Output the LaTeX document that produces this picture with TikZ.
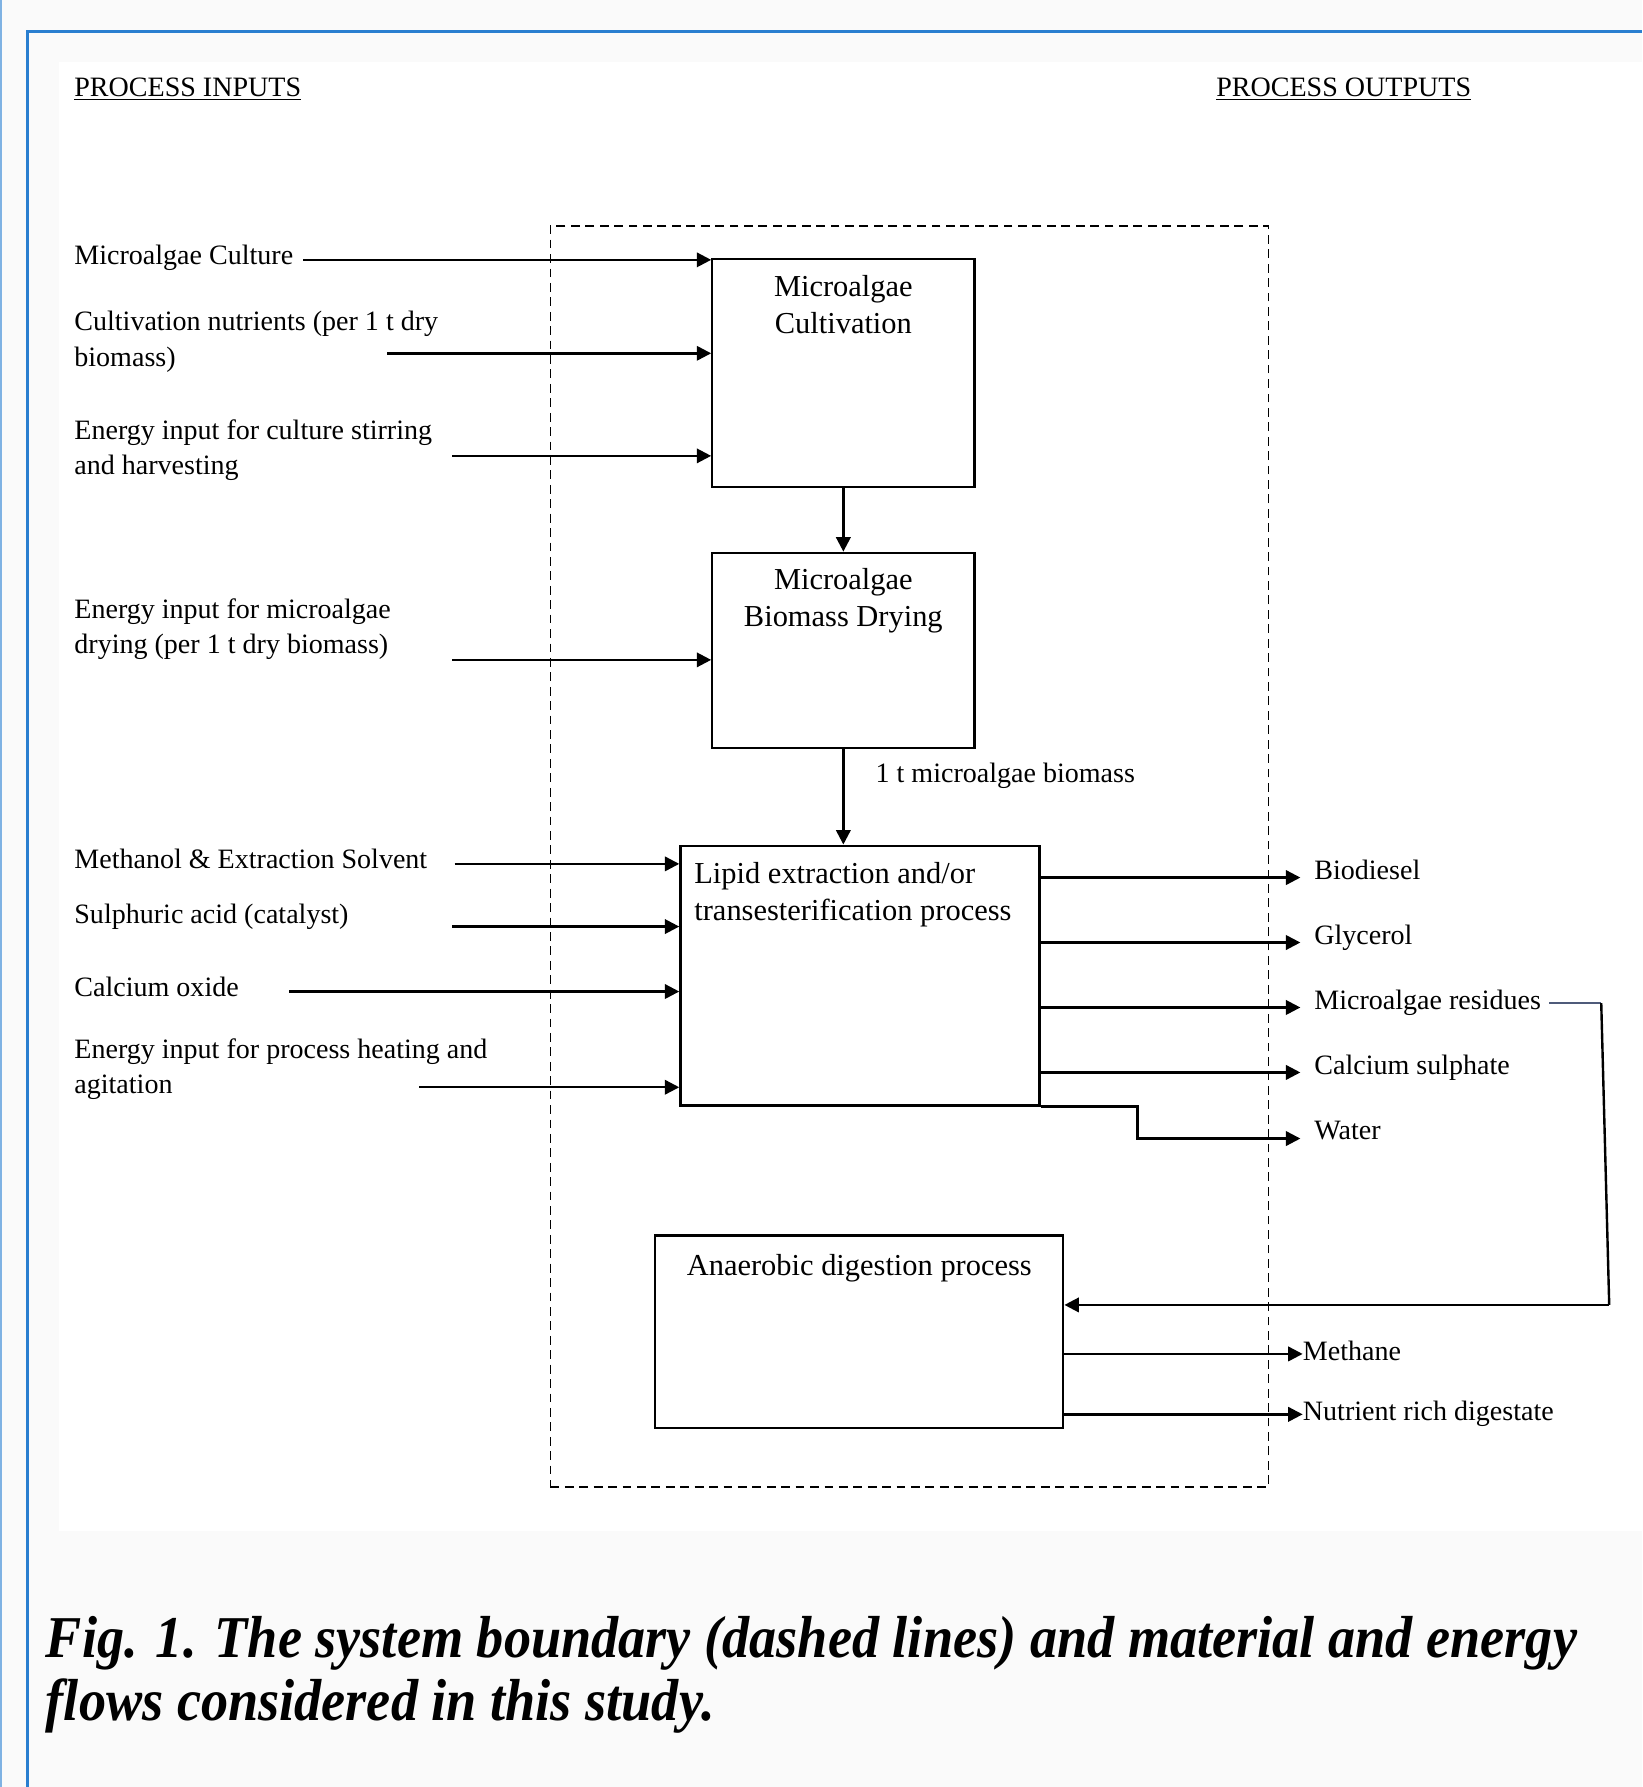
\documentclass[tikz,border=0pt]{standalone}
\usepackage{fontspec}
\setmainfont{Liberation Serif}
\usepackage{graphicx}
\usetikzlibrary{arrows.meta,fit}
\definecolor{frameblue}{HTML}{2A7FD0}
\definecolor{bggray}{HTML}{FAFAFA}
\definecolor{stubcol}{HTML}{4F5B7A}
\begin{document}
\begin{tikzpicture}[x=0.025cm,y=-0.025cm,
  lbl/.style={font=\fontsize{17.5}{22}\selectfont, inner sep=0, anchor=base west},
  mlbl/.style={font=\fontsize{17.5}{22}\selectfont, inner sep=0, anchor=north west, align=left},
  btxt/.style={font=\fontsize{19}{23.5}\selectfont, inner sep=0},
  box/.style={draw, line width=1.4pt, inner sep=0, fill=white},
  bnd/.style={draw, line width=1.2pt, dash pattern=on 5.5pt off 3.5pt, inner sep=0},
  arr/.style={line width=1.5pt, -{Triangle[length=9pt,width=9pt]}},
  ln/.style={line width=1.5pt}]
\useasboundingbox (0,0) rectangle (1441,1568);
% background
\fill[bggray] (0,0) rectangle (1441,1568);
\fill[white] (52,54) rectangle (1441,1343);
\draw[frameblue!60, line width=1pt] (1,0) -- (1,1568);
\draw[frameblue, line width=1.8pt] (24,1568) -- (24,28) -- (1441,28);

% headings
\node[lbl] (hin) at (65,85) {\underline{PROCESS INPUTS}};
\node[lbl] (hout) at (1067,85) {\underline{PROCESS OUTPUTS}};

% system boundary
\node[bnd, fit={(483,198) (1113,1305)}] (bound) {};

% process boxes
\node[box, fit={(625,227) (855,427)}] (cult) {};
\node[box, fit={(625,485) (855,656)}] (dry) {};
\node[box, fit={(597,742) (912,970)}] (lipid) {};
\node[box, fit={(575,1084) (933,1253)}] (anaer) {};

\node[btxt, anchor=north, align=center] (cultT) at (740,241) {Microalgae\\Cultivation};
\node[btxt, anchor=north, align=center] (dryT) at (740,498) {Microalgae\\Biomass Drying};
\node[btxt, anchor=north west, align=left] (lipidT) at (609,756) {Lipid extraction and/or\\transesterification process};
\node[btxt, anchor=base] (anaerT) at (754,1119) {Anaerobic digestion process};

% internal flows
\draw[arr] (cult.south) -- (dry.north);
\draw[arr] (dry.south) -- (dry.south |- lipid.north);
\node[lbl] (bm) at (768,687) {1 t microalgae biomass};

% inputs
\node[lbl] (i1) at (65,232) {Microalgae Culture};
\node[mlbl] (i2) at (65,273) {Cultivation nutrients (per 1 t dry\\biomass)};
\node[mlbl] (i3) at (65,368) {Energy input for culture stirring\\and harvesting};
\node[mlbl] (i4) at (65,525) {Energy input for microalgae\\drying (per 1 t dry biomass)};
\node[lbl] (i5) at (65,762) {Methanol \& Extraction Solvent};
\node[lbl] (i6) at (65,810) {Sulphuric acid (catalyst)};
\node[lbl] (i7) at (65,874) {Calcium oxide};
\node[mlbl] (i8) at (65,911) {Energy input for process heating and\\agitation};

\coordinate (ci1) at (266,228);
\coordinate (ci2) at (340,310);
\coordinate (ci3) at (397,400);
\coordinate (ci4) at (397,579);
\coordinate (ci5) at (399,758);
\coordinate (ci6) at (397,813);
\coordinate (ci7) at (254,870);
\coordinate (ci8) at (368,954);

\draw[arr] (ci1) -- (ci1 -| cult.west);
\draw[arr] (ci2) -- (ci2 -| cult.west);
\draw[arr] (ci3) -- (ci3 -| cult.west);
\draw[arr] (ci4) -- (ci4 -| dry.west);
\draw[arr] (ci5) -- (ci5 -| lipid.west);
\draw[arr] (ci6) -- (ci6 -| lipid.west);
\draw[arr] (ci7) -- (ci7 -| lipid.west);
\draw[arr] (ci8) -- (ci8 -| lipid.west);

% outputs of lipid process
\node[lbl] (o1) at (1153,772) {Biodiesel};
\node[lbl] (o2) at (1153,829) {Glycerol};
\node[lbl] (o3) at (1153,886) {Microalgae residues};
\node[lbl] (o4) at (1153,943) {Calcium sulphate};
\node[lbl] (o5) at (1153,1000) {Water};

\coordinate (co1) at (1141,770);
\coordinate (co2) at (1141,827);
\coordinate (co3) at (1141,884);
\coordinate (co4) at (1141,941);
\coordinate (co5) at (1141,999);
\coordinate (wk) at (998,999);

\draw[arr] (co1 -| lipid.east) -- (co1);
\draw[arr] (co2 -| lipid.east) -- (co2);
\draw[arr] (co3 -| lipid.east) -- (co3);
\draw[arr] (co4 -| lipid.east) -- (co4);
\draw[arr] (lipid.south east) -| (wk) -- (co5);

% recycle of residues to anaerobic digestion
\coordinate (fbA) at (1405,879);
\coordinate (fbB) at (1412,1145);
\draw[stubcol, line width=0.7pt] ([xshift=5pt]o3.east) -- (o3.east -| fbA);
\draw[ln] (o3.east -| fbA) -- (fbB);
\draw[arr] (fbB) -- (fbB -| anaer.east);

% outputs of anaerobic digestion
\node[lbl] (m1) at (1143,1194) {Methane};
\node[lbl] (m2) at (1143,1246) {Nutrient rich digestate};
\coordinate (cm1) at (1143,1188);
\coordinate (cm2) at (1143,1241);
\draw[arr] (cm1 -| anaer.east) -- (cm1);
\draw[arr] (cm2 -| anaer.east) -- (cm2);

% caption
\node[anchor=north west, align=left, inner sep=0,
      font=\fontsize{37}{39}\selectfont\bfseries\itshape] (cap) at (40,1418)
  {\scalebox{0.915}[1]{Fig. 1. The system boundary (dashed lines) and material and energy}\\
   \scalebox{0.915}[1]{flows considered in this study.}};
\end{tikzpicture}
\end{document}
